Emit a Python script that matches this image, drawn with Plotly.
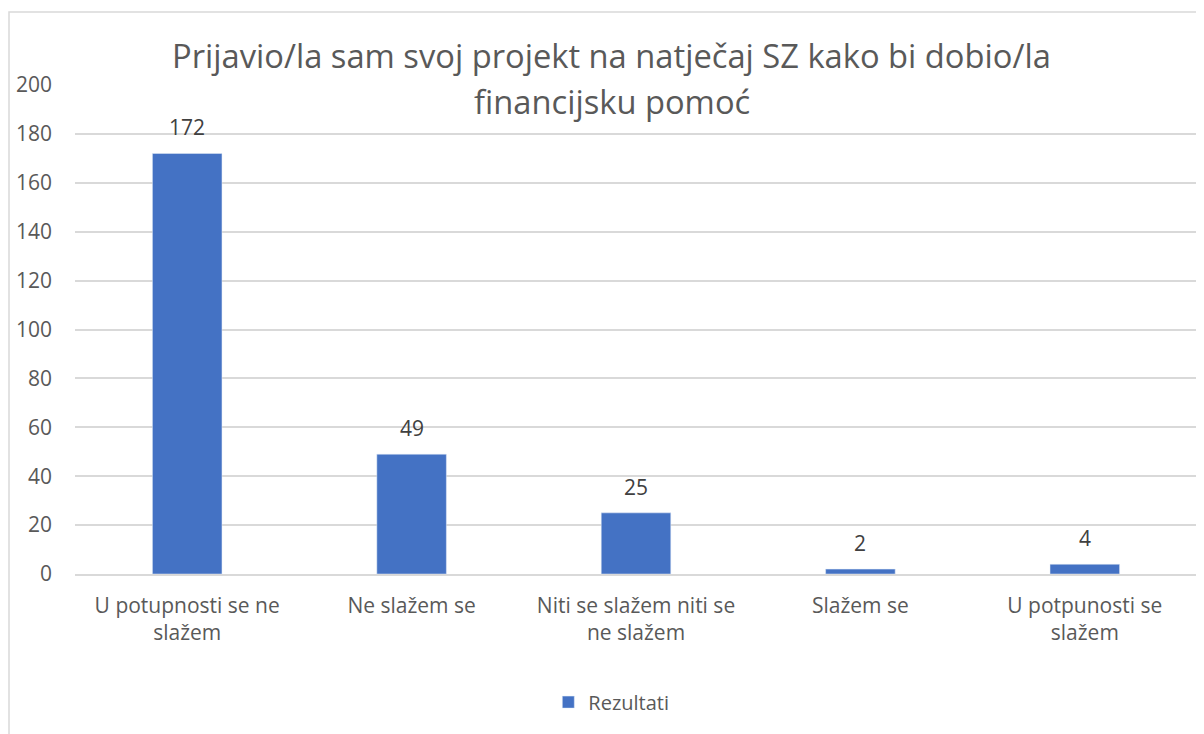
import plotly.graph_objects as go

# Podaci
kategorije = [
    "U potupnosti se ne<br>slažem",
    "Ne slažem se",
    "Niti se slažem niti se<br>ne slažem",
    "Slažem se",
    "U potpunosti se<br>slažem",
]
rezultati = [172, 49, 25, 2, 4]
naslov_linije = [
    "Prijavio/la sam svoj projekt na natječaj SZ kako bi dobio/la",
    "financijsku pomoć",
]
y_tickovi = [0, 20, 40, 60, 80, 100, 120, 140, 160, 180, 200]

PLAVA = "#4472C4"
SIVA_TEKST = "#595959"
SIVA_LINIJA = "#d9d9d9"
FONT = "Open Sans, Noto Sans, sans-serif"

fig = go.Figure(go.Bar(
    x=kategorije,
    y=rezultati,
    name="Rezultati",
    marker_color=PLAVA,
    hoverinfo="x+y",
))

# oznake vrijednosti iznad stupaca
for kat, val in zip(kategorije, rezultati):
    fig.add_annotation(
        x=kat, y=val, text=str(val), showarrow=False,
        yanchor="bottom", yshift=10,
        font=dict(family=FONT, size=21, color="#404040"),
    )

# naslov u dva reda (razmak kao u Excelu)
for i, linija in enumerate(naslov_linije):
    fig.add_annotation(
        text=linija, showarrow=False,
        xref="paper", yref="paper",
        x=0.4786, y=1 + (85 - 56 - i * 46) / 489,
        xanchor="center", yanchor="middle",
        font=dict(family=FONT, size=32.7, color=SIVA_TEKST),
    )

# okvir grafikona
fig.add_shape(
    type="rect", xref="paper", yref="paper",
    x0=(9 - 75) / 1122, x1=1.02, y0=-0.4, y1=1 + (85 - 12) / 489,
    line=dict(color=SIVA_LINIJA, width=1.5), fillcolor="rgba(0,0,0,0)",
    layer="below",
)

# stranica ima marginu od 8px, pa je figura malo manja
fig.update_layout(
    width=1196,
    height=726,
    margin=dict(l=67, r=7, t=77, b=160),
    paper_bgcolor="white",
    plot_bgcolor="white",
    bargap=0.69,
    font=dict(family=FONT, size=20, color=SIVA_TEKST),
    showlegend=True,
    legend=dict(
        orientation="h", x=0.478, xanchor="center",
        y=-0.262, yanchor="middle",
        font=dict(family=FONT, size=20, color=SIVA_TEKST),
    ),
    xaxis=dict(
        showgrid=False, showline=True, linecolor=SIVA_LINIJA, linewidth=1.5,
        ticks="", ticklabelstandoff=12,
        tickfont=dict(family=FONT, size=21, color=SIVA_TEKST),
    ),
    yaxis=dict(
        range=[0, 200], tickvals=y_tickovi,
        showgrid=True, gridcolor=SIVA_LINIJA, gridwidth=1.5,
        zeroline=False, showline=False, ticks="",
        ticklabelstandoff=22,
        tickfont=dict(family=FONT, size=21, color=SIVA_TEKST),
    ),
)

fig.write_html("out.html")
